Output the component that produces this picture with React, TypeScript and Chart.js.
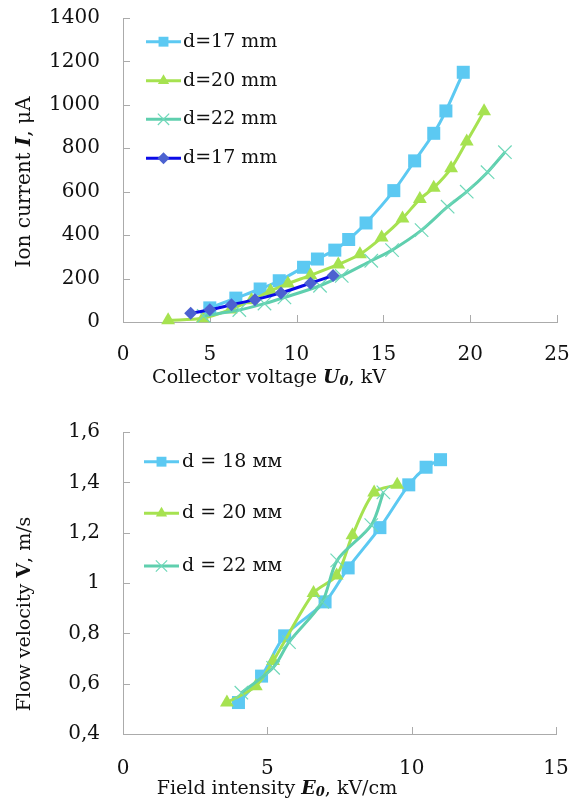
import React, { useEffect, useRef } from 'react';
import { Chart, registerables } from 'chart.js';

Chart.register(...registerables);

// ---------- Top chart data ----------
const topXTickLabels = ['0', '5', '10', '15', '20', '25'];
const topYTickLabels = ['0', '200', '400', '600', '800', '1000', '1200', '1400'];

const d17aX = [5.0, 6.5, 7.9, 9.0, 10.4, 11.2, 12.2, 13.0, 14.0, 15.6, 16.8, 17.9, 18.6, 19.6];
const d17aY = [65, 110, 152, 190, 252, 290, 331, 380, 456, 605, 742, 869, 972, 1150];

const d20X = [2.6, 4.6, 6.2, 7.4, 8.5, 9.5, 10.8, 12.4, 13.65, 14.9, 16.1, 17.1, 17.9, 18.9, 19.8, 20.8];
const d20Y = [8, 17, 58, 100, 143, 177, 215, 265, 312, 389, 477, 566, 618, 708, 831, 970];

const d22X = [4.65, 6.7, 8.15, 9.3, 11.35, 12.6, 14.3, 15.5, 17.2, 18.7, 19.8, 21.0, 22.0];
const d22Y = [28, 55, 85, 113, 167, 212, 282, 331, 423, 531, 600, 690, 782];

const d17bX = [3.9, 5.0, 6.25, 7.6, 9.1, 10.8, 12.1];
const d17bY = [40, 56, 79, 103, 134, 179, 214];

const topLabels = ['d=17 mm', 'd=20 mm', 'd=22 mm', 'd=17 mm'];

// ---------- Bottom chart data ----------
const botXTickLabels = ['0', '5', '10', '15'];
const botYTickLabels = ['0,4', '0,6', '0,8', '1', '1,2', '1,4', '1,6'];

const v18X = [4.0, 4.8, 5.6, 7.0, 7.8, 8.9, 9.9, 10.5, 11.0];
const v18Y = [0.525, 0.63, 0.79, 0.925, 1.06, 1.22, 1.39, 1.46, 1.49];

const v20X = [3.6, 4.6, 5.2, 6.6, 7.4, 7.95, 8.7, 9.5];
const v20Y = [0.525, 0.59, 0.69, 0.96, 1.03, 1.19, 1.36, 1.39];

const v22X = [4.1, 5.2, 5.75, 6.9, 7.42, 8.6, 9.02];
const v22Y = [0.564, 0.663, 0.765, 0.925, 1.09, 1.23, 1.36];

const botLabels = ['d = 18 мм', 'd = 20 мм', 'd = 22 мм'];

// ---------- Styles ----------
const FONT = 'DejaVu Serif';
const AXIS = '#ABABAB';
const TEXT = '#111111';
const LIGHT_BLUE = '#5CC9F2';
const GREEN = '#A6E250';
const TEAL = '#5FCFAE';
const TEAL_MARK = '#6FD8B9';
const DARK_BLUE = '#0B0BE8';
const DIAMOND = '#4C62D0';

type Marker = 'rect' | 'triangle' | 'crossRot' | 'rectRot';

interface SeriesStyle {
  line: string;
  fill: string;
  marker: Marker;
  radius: number;
  legendRadius: number;
}

const S_LB: SeriesStyle = { line: LIGHT_BLUE, fill: LIGHT_BLUE, marker: 'rect', radius: 9.2, legendRadius: 7 };
const S_GR: SeriesStyle = { line: GREEN, fill: GREEN, marker: 'triangle', radius: 8, legendRadius: 6.5 };
const S_TE: SeriesStyle = { line: TEAL, fill: TEAL_MARK, marker: 'crossRot', radius: 9.5, legendRadius: 8 };
const S_DB: SeriesStyle = { line: DARK_BLUE, fill: DIAMOND, marker: 'rectRot', radius: 6.5, legendRadius: 6 };

function drawMarker(ctx: CanvasRenderingContext2D, st: SeriesStyle, x: number, y: number, r: number) {
  ctx.save();
  ctx.beginPath();
  if (st.marker === 'rect') {
    const s = r * Math.SQRT1_2;
    ctx.rect(x - s, y - s, 2 * s, 2 * s);
    ctx.fillStyle = st.fill;
    ctx.fill();
  } else if (st.marker === 'triangle') {
    let a = 0;
    ctx.moveTo(x + Math.sin(a) * r, y - Math.cos(a) * r);
    a += (2 * Math.PI) / 3;
    ctx.lineTo(x + Math.sin(a) * r, y - Math.cos(a) * r);
    a += (2 * Math.PI) / 3;
    ctx.lineTo(x + Math.sin(a) * r, y - Math.cos(a) * r);
    ctx.closePath();
    ctx.fillStyle = st.fill;
    ctx.fill();
  } else if (st.marker === 'rectRot') {
    ctx.moveTo(x, y - r);
    ctx.lineTo(x + r, y);
    ctx.lineTo(x, y + r);
    ctx.lineTo(x - r, y);
    ctx.closePath();
    ctx.fillStyle = st.fill;
    ctx.fill();
  } else {
    const o = r * Math.SQRT1_2;
    ctx.moveTo(x - o, y - o);
    ctx.lineTo(x + o, y + o);
    ctx.moveTo(x - o, y + o);
    ctx.lineTo(x + o, y - o);
    ctx.strokeStyle = st.fill;
    ctx.lineWidth = 1.2;
    ctx.stroke();
  }
  ctx.restore();
}

interface Part {
  t: string;
  font: string;
  dy?: number;
}

function drawRich(ctx: CanvasRenderingContext2D, parts: Part[], cx: number, cy: number, rotate: boolean) {
  ctx.save();
  ctx.translate(cx, cy);
  if (rotate) ctx.rotate(-Math.PI / 2);
  ctx.textBaseline = 'middle';
  ctx.textAlign = 'left';
  ctx.fillStyle = TEXT;
  let total = 0;
  for (const p of parts) {
    ctx.font = p.font;
    total += ctx.measureText(p.t).width;
  }
  let x = -total / 2;
  for (const p of parts) {
    ctx.font = p.font;
    ctx.fillText(p.t, x, p.dy || 0);
    x += ctx.measureText(p.t).width;
  }
  ctx.restore();
}

interface DecorSpec {
  legendLabels: string[];
  legendStyles: SeriesStyle[];
  legendYs: number[];
  legendX0: number;
  legendX1: number;
  legendTextX: number;
  xTitle: Part[];
  xTitlePos: [number, number];
  yTitle: Part[];
  yTitlePos: [number, number];
}

const TICK = 7;

function makeDecor(spec: DecorSpec) {
  return {
    id: 'decor',
    beforeDatasetsDraw(chart: any) {
      const ctx: CanvasRenderingContext2D = chart.ctx;
      const { left, bottom } = chart.chartArea;
      const xs = chart.scales.x;
      const ys = chart.scales.y;
      ctx.save();
      ctx.strokeStyle = AXIS;
      ctx.lineWidth = 1;
      xs.ticks.forEach((t: any) => {
        const px = Math.round(xs.getPixelForValue(t.value)) + 0.5;
        ctx.beginPath();
        ctx.moveTo(px, bottom);
        ctx.lineTo(px, bottom - TICK);
        ctx.stroke();
      });
      ys.ticks.forEach((t: any) => {
        const py = Math.round(ys.getPixelForValue(t.value)) + 0.5;
        ctx.beginPath();
        ctx.moveTo(left, py);
        ctx.lineTo(left + TICK, py);
        ctx.stroke();
      });
      ctx.restore();
    },
    afterDraw(chart: any) {
      const ctx: CanvasRenderingContext2D = chart.ctx;
      spec.legendLabels.forEach((lab, i) => {
        const st = spec.legendStyles[i];
        const y = spec.legendYs[i];
        ctx.save();
        ctx.strokeStyle = st.line;
        ctx.lineWidth = 3;
        ctx.beginPath();
        ctx.moveTo(spec.legendX0, y);
        ctx.lineTo(spec.legendX1, y);
        ctx.stroke();
        ctx.restore();
        drawMarker(ctx, st, (spec.legendX0 + spec.legendX1) / 2, y, st.legendRadius);
        ctx.save();
        ctx.font = `19px ${FONT}`;
        ctx.fillStyle = TEXT;
        ctx.textBaseline = 'middle';
        ctx.textAlign = 'left';
        ctx.fillText(lab, spec.legendTextX, y);
        ctx.restore();
      });
      drawRich(ctx, spec.xTitle, spec.xTitlePos[0], spec.xTitlePos[1], false);
      drawRich(ctx, spec.yTitle, spec.yTitlePos[0], spec.yTitlePos[1], true);
    },
  };
}

function dataset(label: string, xs: number[], ys: number[], st: SeriesStyle, order: number) {
  return {
    label,
    data: xs.map((x, i) => ({ x, y: ys[i] })),
    showLine: true,
    borderColor: st.line,
    backgroundColor: st.fill,
    borderWidth: 3,
    tension: 0.3,
    pointStyle: st.marker,
    pointRadius: st.radius,
    pointHoverRadius: st.radius,
    pointBackgroundColor: st.fill,
    pointBorderColor: st.fill,
    pointBorderWidth: st.marker === 'crossRot' ? 1.2 : 0,
    clip: false,
    order,
  };
}

interface AxisSpec {
  min: number;
  max: number;
  step: number;
  labels: string[];
  padding: number;
}

function scale(a: AxisSpec, fit: (s: any) => void) {
  return {
    type: 'linear',
    min: a.min,
    max: a.max,
    ticks: {
      stepSize: a.step,
      autoSkip: false,
      maxRotation: 0,
      padding: a.padding,
      color: TEXT,
      font: { family: FONT, size: 20 },
      callback: (v: number) => a.labels[Math.round((v - a.min) / a.step)] ?? '',
    },
    grid: { display: true, drawOnChartArea: false, drawTicks: false },
    border: { display: true, color: AXIS, width: 1 },
    afterFit: (s: any) => {
      fit(s);
      s.paddingTop = 0;
      s.paddingBottom = 0;
      s.paddingLeft = 0;
      s.paddingRight = 0;
    },
  };
}

function buildTop(): any {
  return {
    type: 'scatter',
    data: {
      datasets: [
        dataset(topLabels[0], d17aX, d17aY, S_LB, 3),
        dataset(topLabels[1], d20X, d20Y, S_GR, 2),
        dataset(topLabels[2], d22X, d22Y, S_TE, 1),
        dataset(topLabels[3], d17bX, d17bY, S_DB, 0),
      ],
    },
    options: {
      responsive: false,
      animation: false,
      devicePixelRatio: 1,
      layout: { padding: { top: 18, right: 24, left: 0, bottom: 0 } },
      plugins: { legend: { display: false }, tooltip: { enabled: false } },
      scales: {
        x: scale({ min: 0, max: 25, step: 5, labels: topXTickLabels, padding: 21 }, (s) => { s.height = 78; }),
        y: scale({ min: 0, max: 1400, step: 200, labels: topYTickLabels, padding: 23 }, (s) => { s.width = 123; }),
      },
    },
    plugins: [
      makeDecor({
        legendLabels: topLabels,
        legendStyles: [S_LB, S_GR, S_TE, S_DB],
        legendYs: [41.7, 80.7, 119.3, 158.3],
        legendX0: 146,
        legendX1: 181,
        legendTextX: 183,
        xTitle: [
          { t: 'Collector voltage ', font: `19px ${FONT}` },
          { t: 'U', font: `italic bold 19px ${FONT}` },
          { t: '0', font: `italic bold 13px ${FONT}`, dy: 4 },
          { t: ', kV', font: `19px ${FONT}` },
        ],
        xTitlePos: [269, 378],
        yTitle: [
          { t: 'Ion current ', font: `20px ${FONT}` },
          { t: 'I', font: `italic bold 20px ${FONT}` },
          { t: ', μA', font: `20px ${FONT}` },
        ],
        yTitlePos: [25, 182],
      }),
    ],
  };
}

function buildBottom(): any {
  return {
    type: 'scatter',
    data: {
      datasets: [
        dataset(botLabels[0], v18X, v18Y, S_LB, 2),
        dataset(botLabels[1], v20X, v20Y, S_GR, 1),
        dataset(botLabels[2], v22X, v22Y, S_TE, 0),
      ],
    },
    options: {
      responsive: false,
      animation: false,
      devicePixelRatio: 1,
      layout: { padding: { top: 32, right: 25, left: 0, bottom: 0 } },
      plugins: { legend: { display: false }, tooltip: { enabled: false } },
      scales: {
        x: scale({ min: 0, max: 15, step: 5, labels: botXTickLabels, padding: 23 }, (s) => { s.height = 69; }),
        y: scale({ min: 0.4, max: 1.6, step: 0.2, labels: botYTickLabels, padding: 23 }, (s) => { s.width = 123; }),
      },
    },
    plugins: [
      makeDecor({
        legendLabels: botLabels,
        legendStyles: [S_LB, S_GR, S_TE],
        legendYs: [61.7, 113.3, 166],
        legendX0: 144,
        legendX1: 179,
        legendTextX: 182,
        xTitle: [
          { t: 'Field intensity ', font: `19px ${FONT}` },
          { t: 'E', font: `italic bold 19px ${FONT}` },
          { t: '0', font: `italic bold 13px ${FONT}`, dy: 4 },
          { t: ', kV/cm', font: `19px ${FONT}` },
        ],
        xTitlePos: [277, 389],
        yTitle: [
          { t: 'Flow velocity ', font: `19px ${FONT}` },
          { t: 'V', font: `bold 19px ${FONT}` },
          { t: ', m/s', font: `19px ${FONT}` },
        ],
        yTitlePos: [25, 214],
      }),
    ],
  };
}

function ChartCanvas({ build, width, height }: { build: () => any; width: number; height: number }) {
  const ref = useRef<HTMLCanvasElement>(null);
  useEffect(() => {
    if (!ref.current) return;
    const chart = new Chart(ref.current, build());
    return () => chart.destroy();
  }, [build]);
  return <canvas ref={ref} width={width} height={height} style={{ display: 'block', width, height }} />;
}

export default function App() {
  return (
    <div style={{ position: 'absolute', left: 0, top: 0, width: 581, height: 803, background: '#ffffff' }}>
      <ChartCanvas build={buildTop} width={581} height={400} />
      <ChartCanvas build={buildBottom} width={581} height={403} />
    </div>
  );
}
